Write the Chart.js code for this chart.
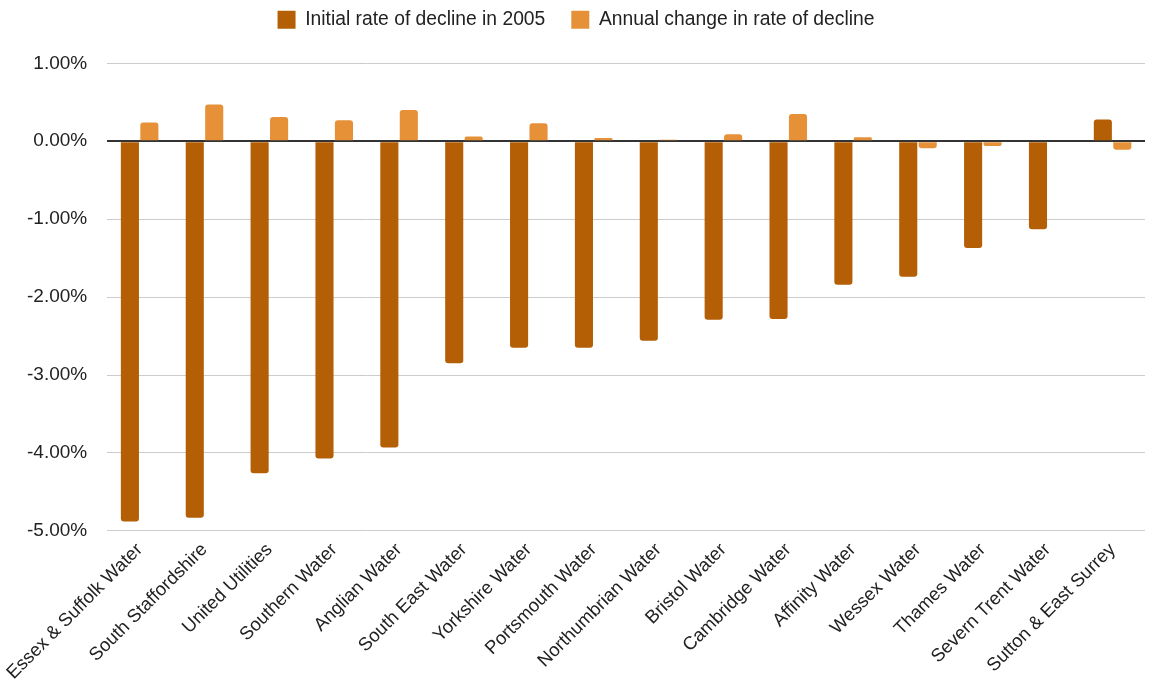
<!DOCTYPE html>
<html>
<head>
<meta charset="utf-8">
<script src="https://cdn.jsdelivr.net/npm/chart.js@4"></script>
<style>
  html, body { margin: 0; padding: 0; background: #fff; }
  #wrap { width: 1153px; height: 684px; }
</style>
</head>
<body>
<div id="wrap"><canvas id="barChart"></canvas></div>
<script>
// categories (water companies)
const companies = [
  "Essex & Suffolk Water",
  "South Staffordshire",
  "United Utilities",
  "Southern Water",
  "Anglian Water",
  "South East Water",
  "Yorkshire Water",
  "Portsmouth Water",
  "Northumbrian Water",
  "Bristol Water",
  "Cambridge Water",
  "Affinity Water",
  "Wessex Water",
  "Thames Water",
  "Severn Trent Water",
  "Sutton & East Surrey",
];

// values in percent
const initialRate = [
  -4.88, -4.83, -4.26, -4.07, -3.93, -2.85, -2.65, -2.65, -2.56, -2.29, -2.28,
  -1.84, -1.74, -1.37, -1.13, 0.28,
];
const annualChange = [
  0.24, 0.47, 0.31, 0.27, 0.4, 0.06, 0.23, 0.04, 0.02, 0.09, 0.35, 0.05, -0.09,
  -0.06, 0, -0.11,
];

const yTicks = [1, 0, -1, -2, -3, -4, -5];

Chart.defaults.font.family = "'Liberation Sans', Arial, sans-serif";
Chart.defaults.font.size = 19;
Chart.defaults.color = "#222";

const barStyle = {
  borderWidth: 0,
  borderRadius: 3,
  categoryPercentage: 0.6,
  barPercentage: 0.93,
};

// push the plot down a bit below the legend
const legendSpacer = {
  id: "legendSpacer",
  beforeInit(chart) {
    const fit = chart.legend.fit;
    chart.legend.fit = function () {
      fit.call(this);
      this.height += 24;
    };
  },
};

const myChart = new Chart("barChart", {
  type: "bar",
  data: {
    labels: companies,
    datasets: [
      {
        label: "Initial rate of decline in 2005",
        data: initialRate,
        backgroundColor: "#B45F06",
        ...barStyle,
      },
      {
        label: "Annual change in rate of decline",
        data: annualChange,
        backgroundColor: "#E69138",
        ...barStyle,
      },
    ],
  },
  options: {
    responsive: true,
    maintainAspectRatio: false,
    animation: false,
    layout: {
      padding: { left: 7, right: 8, top: -16, bottom: 0 },
    },
    plugins: {
      legend: {
        position: "top",
        labels: {
          boxWidth: 18,
          boxHeight: 18,
          padding: 26,
          color: "#222",
          font: { size: 19.3 },
        },
      },
      tooltip: { enabled: false },
    },
    scales: {
      x: {
        grid: { display: false },
        border: { display: false },
        ticks: {
          maxRotation: 45,
          minRotation: 45,
          autoSkip: false,
          color: "#222",
          padding: 0,
          font: { size: 18.5 },
        },
      },
      y: {
        min: -5,
        max: 1,
        afterBuildTicks: (axis) => {
          axis.ticks = yTicks.map((v) => ({ value: v }));
        },
        border: { display: false },
        grid: {
          drawTicks: false,
          color: (ctx) => (ctx.tick && ctx.tick.value === 0 ? "#333" : "#ccc"),
          lineWidth: (ctx) => (ctx.tick && ctx.tick.value === 0 ? 2 : 1),
        },
        ticks: {
          padding: 20,
          color: "#222",
          callback: (v) => v.toFixed(2) + "%",
        },
      },
    },
  },
  plugins: [legendSpacer],
});
</script>
</body>
</html>
